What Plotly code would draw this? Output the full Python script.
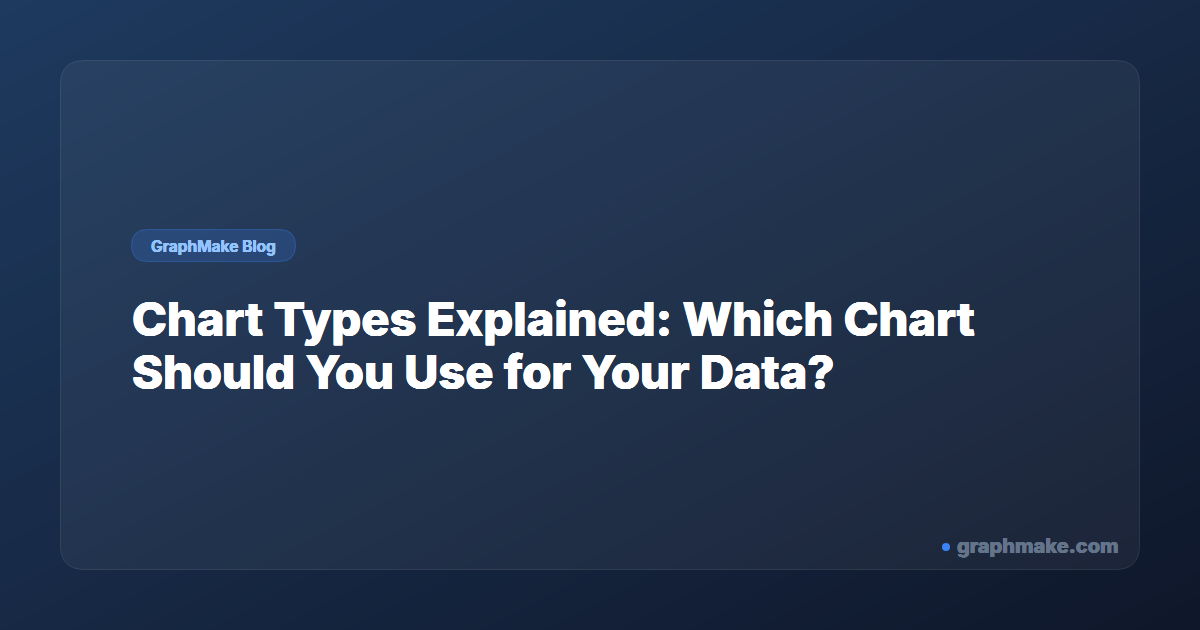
import plotly.graph_objects as go

# text content of the card
badge_text = "GraphMake Blog"
title_lines = ["Chart Types Explained: Which Chart", "Should You Use for Your Data?"]
site_text = "graphmake.com"

W, H = 1200, 630
HEAVY = "Inter ExtraBold, Inter Black, Inter"


def rounded_rect(x0, y0, x1, y1, r):
    return (f"M {x0+r},{y0} L {x1-r},{y0} Q {x1},{y0} {x1},{y0+r} "
            f"L {x1},{y1-r} Q {x1},{y1} {x1-r},{y1} "
            f"L {x0+r},{y1} Q {x0},{y1} {x0},{y1-r} "
            f"L {x0},{y0+r} Q {x0},{y0} {x0+r},{y0} Z")


def thicken(color, d=0.6):
    # poor man's extra-bold: a ring of tiny shadows in the text colour
    return ", ".join(f"{dx}px {dy}px 0 {color}"
                     for dx, dy in [(d, 0), (-d, 0), (0, d), (0, -d)])


fig = go.Figure()

# diagonal background gradient
fig.add_trace(go.Heatmap(
    x=[0, W], y=[0, H], z=[[0, 0.5], [0.5, 1]],
    zsmooth="best", showscale=False, hoverinfo="skip",
    colorscale=[[0, "#1e3a5f"], [1, "#0f172a"]],
))

# card
fig.add_shape(type="path", path=rounded_rect(60.5, 60.5, 1139.5, 569.5, 24),
              fillcolor="rgba(255,255,255,0.05)",
              line=dict(color="rgba(255,255,255,0.10)", width=1), layer="above")

# badge pill
fig.add_shape(type="path", path=rounded_rect(131.5, 229.5, 295.5, 261.5, 16),
              fillcolor="rgba(59,130,246,0.20)",
              line=dict(color="rgba(59,130,246,0.35)", width=1), layer="above")

# footer dot
fig.add_shape(type="circle", x0=942, y0=543, x1=950, y1=551,
              fillcolor="#3b82f6", line=dict(width=0), layer="above")

fig.add_annotation(x=213.5, y=246, text=badge_text, showarrow=False,
                   xanchor="center", yanchor="middle",
                   font=dict(family="Inter", size=15.5, weight=700, color="#93c5fd",
                             shadow=thicken("#93c5fd", 0.2)))

for i, line in enumerate(title_lines):
    fig.add_annotation(x=130, y=318 + i * 53, text=line, showarrow=False,
                       xanchor="left", yanchor="middle",
                       font=dict(family=HEAVY, size=47, weight=800, color="#ffffff",
                                 shadow=thicken("#ffffff", 0.4)))

fig.add_annotation(x=1121, y=546, text=site_text, showarrow=False,
                   xanchor="right", yanchor="middle",
                   font=dict(family=HEAVY, size=20, weight=800, color="#64748b",
                             shadow=thicken("#64748b", 0.2)))

fig.update_xaxes(range=[0, W], visible=False, fixedrange=True)
fig.update_yaxes(range=[H, 0], visible=False, fixedrange=True)
fig.update_layout(width=W, height=H, margin=dict(l=0, r=0, t=0, b=0),
                  paper_bgcolor="#0f172a", plot_bgcolor="#0f172a",
                  showlegend=False)

fig.write_html("out.html", config={"displayModeBar": False},
               post_script="document.body.style.margin='0';")
